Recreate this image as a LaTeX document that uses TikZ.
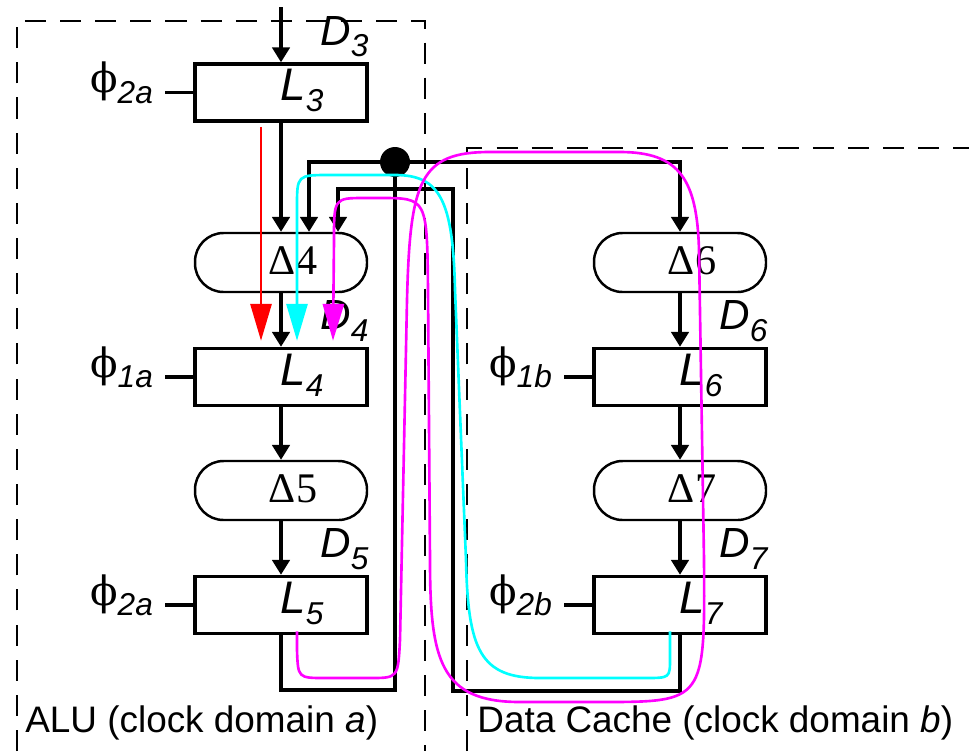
\documentclass[tikz,border=0pt]{standalone}
\usepackage{fontspec}
\setmainfont{Liberation Sans}
\newfontfamily\deltafont{Liberation Serif}
\newfontfamily\phifont{DejaVu Serif}
\usetikzlibrary{arrows.meta,calc}

\definecolor{hlred}{RGB}{255,0,0}
\definecolor{hlcyan}{RGB}{0,255,255}
\definecolor{hlmagenta}{RGB}{255,0,255}

% register / data names with a lowered italic index
\newcommand{\regname}[2]{\textit{#1}\raisebox{-6.5pt}{\fontsize{18}{18}\selectfont\textit{#2}}}
\newcommand{\clkname}[1]{{\phifont\fontsize{23}{23}\selectfont ϕ}\raisebox{-6pt}{\fontsize{18}{18}\selectfont\textit{#1}}}

\tikzset{
  latchbox/.style={draw, line width=2pt, minimum width=3.44cm, minimum height=1.14cm, inner sep=0pt},
  delaybox/.style={draw, line width=1.4pt, rounded corners=0.57cm, minimum width=3.44cm, minimum height=1.18cm, inner sep=0pt},
  wire/.style={line width=1.8pt},
  wirearrow/.style={wire, -{Triangle[length=8.5pt,width=10pt]}},
  hilite/.style={line width=1.5pt, -{Triangle[length=21pt,width=12pt]}},
  clkdomain/.style={line width=1.5pt, dash pattern=on 12pt off 8pt},
  regtxt/.style={inner sep=0pt, anchor=base west, font=\fontsize{26}{26}\selectfont},
  datatxt/.style={inner sep=0pt, anchor=base west, font=\fontsize{24}{24}\selectfont},
  deltatxt/.style={inner sep=0pt, anchor=base, font=\fontsize{24}{24}\deltafont},
  clktxt/.style={inner sep=0pt, anchor=base east, font=\fontsize{26}{26}\selectfont},
  domtxt/.style={inner sep=0pt, anchor=base west, font=\fontsize{21}{21}\selectfont}
}

\begin{document}
\begin{tikzpicture}[x=0.02cm, y=-0.02cm]
  \useasboundingbox (0,0) rectangle (969,751);

  % clock domains
  \draw[clkdomain] (17,751) -- (17,21) -- (425,21) -- (425,751);
  \draw[clkdomain] (467,751) -- (467,148) -- (969,148);
  \node[domtxt] (alu) at (25,732) {ALU (clock domain \textit{a})};
  \node[domtxt] (dcache) at (477,732) {Data Cache (clock domain \textit{b})};

  % ALU column
  \node[latchbox] (L3) at (281,92.5) {};
  \node[delaybox] (dl4) at (281,262.5) {};
  \node[latchbox] (L4) at (281,377) {};
  \node[delaybox] (dl5) at (281,490.5) {};
  \node[latchbox] (L5) at (281,605) {};

  % data cache column
  \node[delaybox] (dl6) at (680,262.5) {};
  \node[latchbox] (L6) at (680,377) {};
  \node[delaybox] (dl7) at (680,490.5) {};
  \node[latchbox] (L7) at (680,605) {};

  \foreach \n in {3,4,5,6,7}
    \node[regtxt] (L\n t) at ($(L\n)+(-1,8)$) {\regname{L}{\n}};
  \foreach \n in {3,4,5,6,7}
    \node[datatxt] (D\n t) at ($(L\n.north)+(39,-17)$) {\regname{D}{\n}};
  \foreach \n in {4,5,6,7}
    \node[deltatxt] (dl\n t) at ($(dl\n)+(12,12)$) {Δ\n};

  % clock inputs
  \foreach \n/\c in {3/2a,4/1a,5/2a,6/1b,7/2b}{
    \draw[wire] (L\n.west) -- ++(-28,0) coordinate (t\n);
    \node[clktxt] (ck\n) at ($(t\n)+(-12,0)$) {\clkname{\c}};
  }

  % pipeline
  \coordinate (in3) at (281,7);
  \draw[wirearrow] (in3) -- (L3.north);
  \draw[wirearrow] (L3.south) -- (dl4.north);
  \draw[wirearrow] (dl4.south) -- (L4.north);
  \draw[wirearrow] (L4.south) -- (dl5.north);
  \draw[wirearrow] (dl5.south) -- (L5.north);
  \draw[wirearrow] (dl6.south) -- (L6.north);
  \draw[wirearrow] (L6.south) -- (dl7.north);
  \draw[wirearrow] (dl7.south) -- (L7.north);

  % bypass wiring
  \node[circle, fill, minimum size=0.6cm, inner sep=0pt] (jn) at (395,162) {};
  \coordinate (ret5) at (395,690);
  \draw[wire] (L5.south) |- (ret5) -- (jn.center);
  \draw[wirearrow] (jn.center) -| ($(dl4.north)+(28,0)$);
  \draw[wirearrow] (jn.center) -| (dl6.north);
  \coordinate (ret7) at (453,691);
  \coordinate (top7) at (453,189);
  \draw[wirearrow] (L7.south) |- (ret7) -- (top7) -| ($(dl4.north)+(57,0)$);

  % critical paths
  \draw[hilite, hlred] ($(L3.south)+(-20,4)$) -- ($(L4.north)+(-20,-6)$);
  \draw[hilite, hlcyan] ($(L7.south)+(-10,-4)$) -- (670,658)
    .. controls (670,678) .. (645,678) -- (540,678)
    .. controls (480,678) and (468,650) .. (466,560) -- (455,290)
    .. controls (453,200) and (440,175) .. (395,175) -- (330,175)
    .. controls (297,175) .. (297,207) -- ($(L4.north)+(16,-6)$);
  \draw[hilite, hlmagenta] ($(L5.south)+(16,-4)$) -- (297,650)
    .. controls (298,678) .. (325,678) -- (370,678)
    .. controls (398,678) .. (400,640) -- (407,300)
    .. controls (410,180) and (420,152) .. (490,152) -- (620,152)
    .. controls (680,152) and (697,180) .. (699,250) -- (704,560)
    .. controls (705,702) .. (600,702) -- (520,702)
    .. controls (440,702) and (430,660) .. (430,560) -- (428,290)
    .. controls (427,198) .. (380,198) -- (365,198)
    .. controls (334,198) .. (334,240) -- ($(L4.north)+(52,-6)$);
\end{tikzpicture}
\end{document}
